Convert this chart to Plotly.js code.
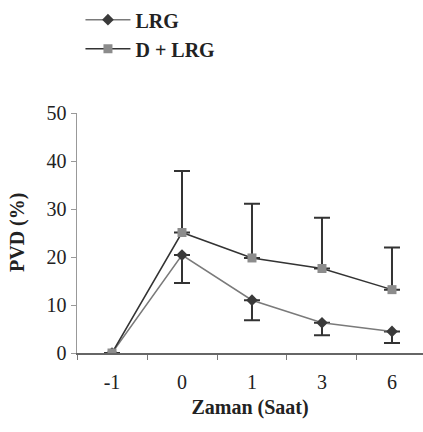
<!DOCTYPE html>
<html><head><meta charset="utf-8">
<script src="https://cdn.plot.ly/plotly-3.0.1.min.js"></script>
<style>
html,body{margin:0;padding:0;background:#fff}
#chart{width:423px;height:432px}
.warm{position:absolute;left:0;top:0;font-family:"Liberation Serif";font-size:20px;color:#fff}
</style>
</head><body>
<div class="warm">&nbsp;<b>&nbsp;</b></div>
<div id="chart"></div>
<script>
const categories = ["-1", "0", "1", "3", "6"];
const lrgValues = [0, 20.4, 11.0, 6.3, 4.5];
const lrgErrMinus = [0, 5.8, 4.2, 2.6, 2.4];
const dlrgValues = [0, 25.1, 19.8, 17.6, 13.2];
const dlrgErrPlus = [0, 12.8, 11.3, 10.6, 8.8];
const zeros = [0, 0, 0, 0, 0];

const fontFamily = "Liberation Serif";

const traces = [
  {
    x: categories, y: lrgValues, name: "<b>LRG</b>", type: "scatter", mode: "lines+markers",
    line: {color: "#7a7a7a", width: 1.5},
    marker: {symbol: "diamond", size: 9, color: "#3a3a3a"},
    error_y: {type: "data", symmetric: false, array: zeros, arrayminus: lrgErrMinus,
      color: "#333", thickness: 2, width: 8}
  },
  {
    x: categories, y: dlrgValues, name: "<b>D + LRG</b>", type: "scatter", mode: "lines+markers",
    line: {color: "#333333", width: 1.5},
    marker: {symbol: "square", size: 9, color: "#8c8c8c"},
    error_y: {type: "data", symmetric: false, array: dlrgErrPlus, arrayminus: zeros,
      color: "#333", thickness: 2, width: 8}
  }
];

const layout = {
  width: 423, height: 432,
  margin: {l: 77, r: 0, t: 110, b: 79},
  paper_bgcolor: "#fff", plot_bgcolor: "#fff",
  font: {family: fontFamily, size: 20, color: "#222"},
  showlegend: true,
  legend: {x: 0.01, xanchor: "left", y: 1.47, yanchor: "top", font: {family: fontFamily, size: 20, color: "#222"},
    bgcolor: "rgba(0,0,0,0)", tracegroupgap: 0, itemwidth: 45},
  xaxis: {
    type: "category", range: [-0.5, 4.443], tickson: "boundaries",
    ticks: "outside", ticklen: 5, tickcolor: "#777", ticklabelstandoff: 10,
    showline: true, linecolor: "#666", linewidth: 1.5,
    showgrid: false, zeroline: false,
    tickfont: {family: fontFamily, size: 20, color: "#222"},
    title: {text: "<b>Zaman (Saat)</b>", font: {family: fontFamily, size: 20, color: "#222"}, standoff: 8}
  },
  yaxis: {
    range: [0, 50], tickvals: [0, 10, 20, 30, 40, 50],
    ticks: "outside", ticklen: 5, tickcolor: "#999",
    showline: true, linecolor: "#999", linewidth: 1.5,
    showgrid: false, zeroline: false,
    tickfont: {family: fontFamily, size: 20, color: "#222"},
    title: {text: ""}
  },
  annotations: [{
    text: "<b>PVD (%)</b>", textangle: -90, xref: "paper", yref: "paper",
    x: (17 - 77) / 346, y: 0.5, xanchor: "center", yanchor: "middle", showarrow: false,
    font: {family: fontFamily, size: 20, color: "#222"}
  }]
};

function draw() {
  return Plotly.newPlot("chart", traces, layout, {displayModeBar: false, staticPlot: true});
}
const loads = (document.fonts && document.fonts.load)
  ? Promise.all([document.fonts.load('20px "Liberation Serif"'), document.fonts.load('bold 20px "Liberation Serif"')]).catch(() => null)
  : Promise.resolve();
draw();
loads.then(() => document.fonts ? document.fonts.ready : null).then(() => {
  void document.querySelector(".warm").offsetWidth;
  return draw();
});
</script></body></html>
